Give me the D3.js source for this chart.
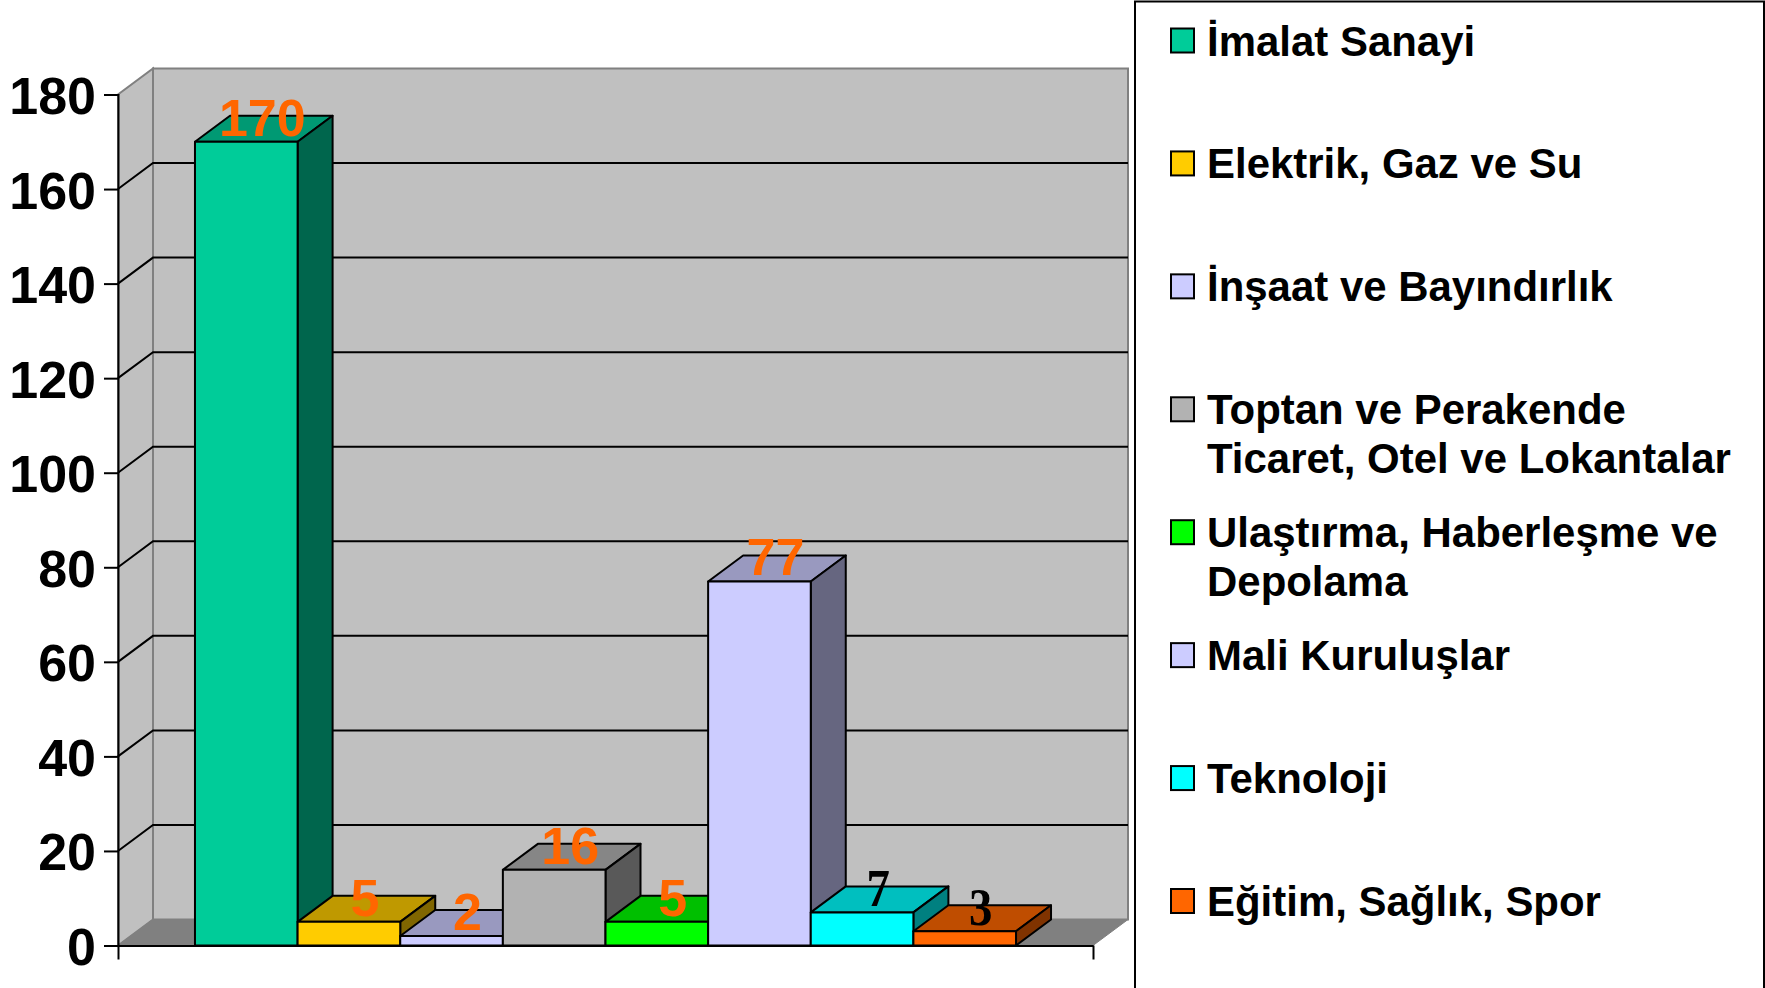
<!DOCTYPE html>
<html>
<head>
<meta charset="utf-8">
<script src="https://cdn.jsdelivr.net/npm/d3@7"></script>
<style>
  body { margin: 0; background: #fff; }
  svg { display: block; }
  text { font-family: "Liberation Sans", Arial, sans-serif; font-weight: bold; }
</style>
</head>
<body>
<div id="chart"></div>
<script>
const categories = [
    "İmalat Sanayi", "Elektrik, Gaz ve Su", "İnşaat ve Bayındırlık",
    "Toptan ve Perakende|Ticaret, Otel ve Lokantalar",
    "Ulaştırma, Haberleşme ve|Depolama", "Mali Kuruluşlar", "Teknoloji",
    "Eğitim, Sağlık, Spor"
];
const values = [170, 5, 2, 16, 5, 77, 7, 3];
const barColors = ["#00CC99", "#FFCC00", "#CCCCFF", "#B2B2B2", "#00FF00", "#CCCCFF", "#00FFFF", "#FF6600"];
const yTicks = [0, 20, 40, 60, 80, 100, 120, 140, 160, 180];
// the last two data labels are black serif in the original
const serifLabels = ["Teknoloji", "Eğitim, Sağlık, Spor"];

const width = 1765, height = 988;
const depthX = 35, depthY = 26;
const plot = { left: 118, right: 1093, top: 94.5, bottom: 945.5 };

const svg = d3.select("#chart").append("svg")
    .attr("width", width)
    .attr("height", height);

const y = d3.scaleLinear().domain([0, 180]).range([plot.bottom, plot.top]);
const x = d3.scaleBand().domain(categories)
    .range([plot.left, plot.right])
    .paddingOuter(0.75).paddingInner(0);

const shade = (color, k) => {
    const c = d3.rgb(color);
    return d3.rgb(c.r * k, c.g * k, c.b * k).formatHex();
};
const poly = pts => pts.map(p => p.join(",")).join(" ");

// Walls and floor
const walls = svg.append("g");
walls.append("polygon")
    .attr("points", poly([[plot.left, y(0)], [plot.left + depthX, y(0) - depthY],
        [plot.left + depthX, y(180) - depthY], [plot.left, y(180)]]))
    .attr("fill", "#C0C0C0").attr("stroke", "#808080").attr("stroke-width", 2);
walls.append("rect")
    .attr("x", plot.left + depthX).attr("y", y(180) - depthY)
    .attr("width", plot.right - plot.left).attr("height", y(0) - y(180))
    .attr("fill", "#C0C0C0").attr("stroke", "#808080").attr("stroke-width", 2);
walls.append("polygon")
    .attr("points", poly([[plot.left, y(0)], [plot.left + depthX, y(0) - depthY],
        [plot.right + depthX, y(0) - depthY], [plot.right, y(0)]]))
    .attr("fill", "#808080").attr("stroke", "#808080").attr("stroke-width", 1);

// Gridlines on back wall and side wall
const gridTicks = yTicks.filter(d => d > 0 && d < 180);
walls.selectAll("polyline.grid")
    .data(gridTicks)
    .enter()
    .append("polyline")
    .attr("class", "grid")
    .attr("points", d => poly([[plot.left, y(d)], [plot.left + depthX, y(d) - depthY],
        [plot.right + depthX, y(d) - depthY]]))
    .attr("fill", "none")
    .attr("stroke", "#000")
    .attr("stroke-width", 2);

// Bars, left to right so each one covers the side of the previous
const bars = svg.selectAll("g.bar")
    .data(categories)
    .enter()
    .append("g")
    .attr("class", "bar")
    .attr("stroke", "#000")
    .attr("stroke-width", 2)
    .attr("stroke-linejoin", "round");

bars.append("polygon") // top
    .attr("points", (d, i) => {
        const x0 = x(d), x1 = x0 + x.bandwidth(), t = y(values[i]);
        return poly([[x0, t], [x0 + depthX, t - depthY], [x1 + depthX, t - depthY], [x1, t]]);
    })
    .attr("fill", (d, i) => shade(barColors[i], 0.75));
bars.append("polygon") // side
    .attr("points", (d, i) => {
        const x1 = x(d) + x.bandwidth(), t = y(values[i]);
        return poly([[x1, t], [x1 + depthX, t - depthY], [x1 + depthX, y(0) - depthY], [x1, y(0)]]);
    })
    .attr("fill", (d, i) => shade(barColors[i], 0.5));
bars.append("rect") // front
    .attr("x", d => x(d))
    .attr("y", (d, i) => y(values[i]))
    .attr("width", x.bandwidth())
    .attr("height", (d, i) => y(0) - y(values[i]))
    .attr("fill", (d, i) => barColors[i]);

// Axes
const yAxis = svg.append("g")
    .attr("transform", `translate(${plot.left},0)`)
    .call(d3.axisLeft(y).tickValues(yTicks).tickSize(14).tickFormat(d3.format("d")));
yAxis.selectAll("path, line").attr("stroke", "#000").attr("stroke-width", 2);
yAxis.selectAll("text")
    .attr("x", -22).attr("y", 19).attr("dy", null)
    .attr("fill", "#000")
    .attr("text-anchor", "end")
    .style("font-size", "52px");

const xEdge = d3.scaleLinear().domain([0, 1]).range([plot.left, plot.right]);
const xAxis = svg.append("g")
    .attr("transform", `translate(0,${plot.bottom})`)
    .call(d3.axisBottom(xEdge).tickValues([0, 1]).tickSize(14).tickSizeOuter(0).tickFormat(""));
xAxis.selectAll("path, line").attr("stroke", "#000").attr("stroke-width", 2);

// Data labels
svg.selectAll("text.label")
    .data(categories)
    .enter()
    .append("text")
    .attr("class", "label")
    .attr("text-anchor", "middle")
    .attr("transform", (d, i) => {
        const sx = serifLabels.includes(d) ? 0.9 : 1;
        return `translate(${x(d) + x.bandwidth() / 2 + 16},${y(values[i]) - 6}) scale(${sx},1)`;
    })
    .attr("fill", d => serifLabels.includes(d) ? "#000" : "#FF6600")
    .style("font-family", d => serifLabels.includes(d) ? '"Liberation Serif", serif' : null)
    .style("font-size", "52px")
    .text((d, i) => values[i]);

// Legend
const legend = svg.append("g");
legend.append("rect")
    .attr("x", 1135).attr("y", 1.5)
    .attr("width", 629).attr("height", height + 10)
    .attr("fill", "#fff").attr("stroke", "#000").attr("stroke-width", 2);

const legendY = d3.scalePoint().domain(categories).range([40.5, 901]);
const items = legend.selectAll("g.item")
    .data(categories)
    .enter()
    .append("g")
    .attr("class", "item")
    .attr("transform", d => `translate(0,${legendY(d)})`);
items.append("rect")
    .attr("x", 1171).attr("y", -12)
    .attr("width", 23).attr("height", 24)
    .attr("fill", (d, i) => barColors[i])
    .attr("stroke", "#000").attr("stroke-width", 2);
items.each(function (d) {
    d3.select(this).selectAll("text")
        .data(d.split("|"))
        .enter()
        .append("text")
        .attr("transform", (line, j) => `translate(1207,${15 + j * 48.5}) scale(0.976,1)`)
        .attr("fill", "#000")
        .style("font-size", "43px")
        .text(line => line);
});
</script>
</body>
</html>
